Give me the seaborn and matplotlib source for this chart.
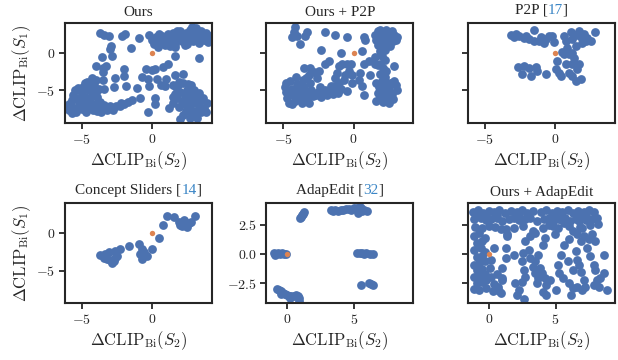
import matplotlib
matplotlib.use("Agg")
import matplotlib.pyplot as plt
from matplotlib.ticker import FuncFormatter
from matplotlib.offsetbox import TextArea, HPacker, AnchoredOffsetbox
import pandas as pd
import seaborn as sns

# ---- data ----
ours = [
    # upper right band
    (-0.2, 2.3), (0.0, 1.7), (0.1, 1.1), (0.3, 2.0), (0.4, 0.8), (0.6, 1.4), (0.7, 2.2), (0.9, 1.0),
    (1.0, 1.8), (1.1, 2.4), (1.2, 1.3), (1.4, 2.0), (1.5, 2.6), (1.6, 1.1), (1.7, 1.7), (1.9, 2.3),
    (2.0, 2.8), (2.1, 1.5), (2.2, 2.0), (2.4, 2.6), (2.5, 1.2), (2.6, 1.9), (2.7, 3.0), (2.8, 2.3),
    (2.9, 1.5), (3.0, 2.0), (3.1, 3.2), (3.2, 2.5), (3.3, 1.3), (3.4, 1.9), (3.5, 2.9), (3.6, 2.3),
    (3.7, 1.6), (3.8, 2.6), (3.9, 2.0), (4.0, 1.4), (4.1, 2.2), (3.0, 2.7), (2.3, 1.0), (1.3, 0.9),
    (0.5, 2.4), (1.8, 2.9), (0.2, 1.4), (2.8, 3.4),
    (1.6, 0.7), (1.6, -0.45), (3.3, -0.76),
    # middle scatter
    (-3.70, 2.59), (-3.39, 2.37), (-3.08, 2.19), (-2.13, 2.23), (-1.94, 2.46), (-0.90, 1.88),
    (-2.89, 0.89), (-3.03, 0.54), (-1.49, 0.58), (-3.55, -0.58), (-2.87, -0.49),
    (-3.98, -1.83), (-3.46, -2.01), (-3.27, -1.79), (-3.51, -2.54), (-1.97, -2.10),
    (-0.47, -2.14), (0.0, -2.32), (0.17, -2.23), (0.76, -1.92), (1.11, -1.56),
    (-2.01, -3.04), (-2.61, -3.35), (-0.71, -3.21), (-0.31, -3.44), (0.36, -3.44), (1.0, -3.44),
    (1.59, -2.90), (2.18, -2.81), (-3.51, -3.57), (-2.68, -4.55), (-3.39, -4.78), (-1.85, -4.46),
    (-1.09, -4.69), (-0.19, -4.46), (0.64, -4.33), (0.88, -4.38), (1.47, -4.33), (1.82, -4.24),
    (1.94, -3.88), (2.54, -4.15), (2.77, -4.24), (0.17, -5.94), (0.17, -6.83), (-0.31, -7.81),
    (1.23, -7.28), (1.47, -5.80), (-0.85, -6.03),
    # lower left blob
    (-5.9, -7.6), (-5.8, -7.0), (-5.7, -6.3), (-5.6, -5.6), (-5.5, -4.9), (-5.4, -7.8), (-5.3, -7.2),
    (-5.2, -6.6), (-5.1, -6.0), (-5.0, -5.3), (-4.9, -4.6), (-4.8, -4.0), (-4.7, -7.9), (-4.6, -7.3),
    (-4.5, -6.8), (-4.4, -6.2), (-4.3, -5.6), (-4.2, -5.0), (-4.1, -4.3), (-4.0, -3.6), (-4.3, -3.4),
    (-4.6, -3.9), (-3.9, -7.7), (-3.8, -7.1), (-3.7, -6.5), (-3.9, -5.8), (-3.8, -4.8), (-5.6, -7.4),
    (-5.0, -7.5), (-4.2, -7.6), (-3.5, -7.4), (-3.4, -6.9), (-5.2, -5.0), (-4.8, -5.8), (-4.5, -4.9),
    (-4.0, -6.8), (-5.9, -6.8), (-4.9, -6.5), (-4.1, -7.2), (-3.6, -7.8), (-5.4, -6.0), (-4.4, -4.4),
    (-4.0, -5.2), (-5.7, -8.0), (-6.0, -7.3), (-5.3, -4.7),
    # band to the right
    (-3.2, -7.6), (-2.9, -7.3), (-2.6, -7.1), (-2.3, -7.0), (-2.0, -6.8), (-1.7, -6.5), (-1.4, -6.3),
    (-2.8, -7.6), (-2.2, -6.6), (-3.0, -7.0),
    # lower right cluster
    (1.6, -5.5), (1.8, -6.0), (2.0, -5.2), (2.1, -6.5), (2.3, -5.6), (2.4, -6.9), (2.5, -5.0),
    (2.6, -6.2), (2.7, -7.3), (2.8, -5.6), (2.9, -6.6), (3.0, -4.9), (3.1, -7.7), (3.2, -5.9),
    (3.3, -7.0), (3.4, -6.4), (3.5, -7.9), (3.6, -6.0), (3.7, -7.3), (3.9, -6.7), (2.2, -8.2),
    (2.0, -8.8), (2.7, -8.6), (2.9, -8.2), (2.4, -7.7), (1.9, -7.2), (1.7, -4.6), (2.2, -4.0),
    (2.6, -4.4), (3.3, -5.3), (3.8, -7.8), (1.5, -6.6), (2.3, -6.0), (2.8, -7.8), (3.2, -8.6),
]

ours_p2p = [
    (-4.15, 3.35), (-4.27, 2.68), (-4.38, 2.01), (-4.03, 2.23), (-3.79, 1.2), (-3.32, 2.68), (-3.44, 2.23),
    (-2.01, 2.68), (-1.30, 2.37), (0.71, 2.01), (0.83, 1.65), (0.59, 0.22), (-0.47, 2.10),
    (-2.32, 0.31), (-0.90, 0.0),
    (-3.08, -2.01), (-3.55, -2.01), (-2.49, -2.46), (-2.01, -1.56), (-1.78, -1.12), (-1.07, -1.79),
    (-0.83, -1.47), (-0.47, -1.47), (-0.19, -1.56), (-0.36, -2.46), (-0.59, -2.90), (-1.18, -2.68),
    (-1.30, -3.35), (-0.71, -3.57), (-0.12, -2.90), (0.47, -2.68), (0.71, -1.56), (1.07, -1.12),
    (1.18, -2.90), (1.54, -1.56), (0.59, -4.46), (0.71, -5.58), (-0.47, -5.13), (-1.42, -4.46),
    (-1.07, -4.02), (-0.12, -4.02), (0.36, -3.57), (2.84, -1.79),
    # left blob
    (-4.9, -4.5), (-4.8, -5.2), (-4.7, -6.0), (-4.6, -6.6), (-4.5, -3.8), (-4.4, -4.8), (-4.3, -5.6),
    (-4.2, -6.4), (-4.1, -3.2), (-4.0, -4.2), (-3.9, -5.0), (-3.8, -5.9), (-3.7, -6.6), (-3.6, -3.6),
    (-3.5, -4.6), (-3.4, -5.4), (-3.3, -6.2), (-3.2, -2.9), (-3.1, -4.0), (-3.0, -5.0), (-2.9, -5.7),
    (-4.8, -4.0), (-4.6, -5.4), (-4.2, -5.0), (-3.8, -4.4), (-3.4, -3.4), (-4.0, -6.0), (-3.6, -5.2),
    (-4.4, -6.8), (-3.2, -6.6), (-2.8, -2.5), (-2.6, -3.4),
    (-2.7, -5.6), (-2.5, -5.2), (-2.3, -5.8), (-2.1, -5.3), (-1.9, -5.6), (-1.7, -5.1), (-1.5, -5.5),
    (-1.3, -4.9), (-1.1, -5.3), (-0.9, -4.8), (-2.4, -4.6), (-2.0, -4.9), (-1.6, -4.4),
    # right column
    (1.5, 2.3), (1.7, 2.8), (1.9, 3.0), (2.1, 2.6), (2.3, 3.0), (2.5, 2.5), (2.7, 2.9), (2.9, 2.3),
    (3.1, 2.0), (1.6, 1.6), (1.8, 2.0), (2.0, 1.4), (2.2, 2.1), (2.4, 1.6), (2.6, 1.9), (2.8, 1.5),
    (3.0, 1.7), (1.7, 1.0), (2.0, 0.8), (2.3, 1.0), (2.6, 0.9), (2.2, 0.4), (1.9, 0.2),
    (2.0, -0.4), (2.2, -1.0), (1.9, -1.5), (2.1, -2.0), (2.3, -2.4), (1.9, -2.8), (2.2, -3.2),
    (2.0, -3.7), (2.3, -4.1), (1.5, -0.6), (1.7, -1.7),
    (1.6, -4.0), (1.8, -4.6), (1.7, -5.3), (1.9, -5.9), (1.6, -6.4), (2.1, -4.4), (2.2, -5.1),
    (2.4, -5.7), (2.1, -6.5), (2.5, -4.8), (2.7, -5.4), (2.8, -6.1), (2.5, -6.6), (3.0, -4.3),
    (2.9, -3.8), (2.6, -4.0), (3.1, -5.0),
]

p2p = [
    (-3.15, 2.37), (-2.91, 2.01), (-2.56, 2.23), (-2.20, 1.92), (-1.85, 1.79), (-1.49, 2.99),
    (-1.49, 1.56), (-1.14, 1.47), (-0.78, 1.21), (-0.66, 1.79), (-0.19, 2.23), (-0.07, 1.34),
    (0.64, 2.23), (0.76, 1.56), (1.11, 2.68), (1.23, 1.79), (1.47, 2.37), (1.82, 2.01), (2.06, 2.46),
    (2.18, 1.47), (2.54, 1.56), (2.84, 2.77), (1.47, 0.89), (1.23, 0.0), (0.64, -0.22), (0.52, 0.13),
    (1.0, -0.22), (-2.80, 2.46), (-2.09, 2.23), (-1.02, 2.10), (-0.43, 2.23), (1.71, 2.90),
    (1.94, 1.21), (2.30, 1.92), (0.88, 0.67), (1.35, -0.67),
    (-2.61, -1.92), (-2.20, -1.79), (-1.85, -2.01), (-1.37, -1.92), (-2.32, -2.81), (-1.73, -3.13),
    (-1.26, -2.46), (-0.66, -2.81), (0.17, -1.12), (0.05, -2.23), (0.28, -2.68), (0.40, -3.13),
    (0.76, -1.56), (1.23, -1.47), (1.71, -1.56), (1.54, -2.23), (1.23, -3.13), (1.47, -3.71),
    (1.82, -3.44), (1.0, -2.68),
]

sliders = [
    (-3.67, -2.93), (-3.44, -3.29), (-3.20, -3.51), (-2.84, -3.96), (-2.73, -3.74), (-3.08, -2.61),
    (-2.61, -2.39), (-2.25, -2.16), (-2.49, -3.06), (-3.32, -2.84), (-2.96, -3.65), (-2.61, -3.38),
    (-1.66, -1.71), (-0.95, -1.49), (-0.71, -2.16), (-0.83, -2.84), (-0.71, -3.51), (-0.36, -3.06),
    (-0.59, -2.61), (0.0, -2.16), (0.47, -0.68), (0.76, 0.99), (1.07, 2.21), (1.54, 2.03),
    (1.90, 1.44), (2.13, 0.86), (2.49, 0.77), (2.61, 1.22), (2.37, 1.13), (2.73, 1.44), (3.03, 2.21),
    (2.25, 1.67), (2.01, 0.99),
]

adapedit = [
    (-1.0, 0.05), (-0.85, 0.0), (-0.7, 0.05), (-0.55, 0.0), (-0.4, 0.05), (-0.25, 0.0), (-0.1, 0.02),
    (-0.9, -0.05),
    (0.98, 3.06), (1.05, 3.2), (1.12, 3.32), (1.2, 3.45), (1.29, 3.55),
    (3.3, 3.8), (3.45, 3.7), (3.6, 3.75), (3.8, 3.7), (4.0, 3.72), (4.2, 3.78), (4.4, 3.82),
    (4.6, 3.85), (4.8, 3.8), (5.0, 3.9), (5.2, 3.95), (5.35, 3.85), (5.3, 3.5), (5.5, 3.9),
    (5.6, 3.7), (5.75, 3.8), (5.95, 3.65), (5.45, 4.0),
    (5.25, 0.05), (5.45, 0.05), (5.6, 0.08), (5.75, 0.03), (5.9, 0.05), (6.2, 0.02), (6.45, 0.0),
    (5.55, -2.65), (6.1, -2.5), (6.3, -2.55), (6.45, -2.62),
    (-0.75, -3.0), (-0.6, -3.1), (-0.45, -3.2), (-0.3, -3.3), (-0.15, -3.45), (0.0, -3.5),
    (0.15, -3.55), (0.3, -3.6), (0.5, -3.55), (0.65, -3.5), (0.8, -3.6), (0.9, -3.8), (0.85, -4.0),
    (-0.5, -3.4), (0.2, -3.75),
]

ours_adapedit = [
    # top band
    (-1.2, 3.6), (-0.8, 3.8), (-0.4, 3.5), (0.0, 3.7), (0.4, 3.6), (0.8, 3.8), (1.2, 3.5), (1.7, 3.7),
    (2.1, 3.6), (2.5, 3.8), (2.9, 3.5), (3.3, 3.7), (3.9, 3.6), (4.3, 3.8), (4.7, 3.5), (5.1, 3.7),
    (5.5, 3.6), (5.9, 3.8), (6.3, 3.5), (6.7, 3.7), (7.1, 3.6), (7.5, 3.8), (7.9, 3.6),
    (-1.1, 3.0), (-0.6, 3.1), (-0.2, 2.9), (0.2, 3.0), (0.6, 3.1), (1.0, 2.8), (1.5, 3.0), (1.9, 3.1),
    (2.3, 2.9), (2.7, 3.0), (3.1, 3.1), (3.6, 2.8), (4.1, 3.0), (4.5, 3.1), (4.9, 2.9), (5.3, 3.0),
    (5.7, 3.1), (6.1, 2.8), (6.5, 3.0), (6.9, 3.1), (7.3, 2.9), (7.7, 3.0), (8.1, 3.1),
    (-1.0, 2.3), (-0.5, 2.2), (0.0, 2.4), (0.5, 2.3), (0.9, 2.1), (1.9, 2.2), (2.6, 2.4), (3.3, 2.0),
    (4.5, 2.5), (5.2, 2.2), (6.0, 2.4), (6.8, 2.3), (7.6, 2.5), (8.2, 2.6),
    (-0.9, 3.3), (-0.2, 3.4), (0.6, 3.3), (2.3, 3.3), (4.9, 3.3), (6.5, 3.3), (7.3, 3.3),
    # left column
    (-1.1, 1.5), (-0.7, 1.8), (-0.3, 1.4), (-0.9, 0.9), (-0.5, 1.1), (-1.1, 0.3), (-0.6, 0.5),
    (-0.3, 0.2), (-0.9, -0.3), (-0.5, -0.2), (-1.1, -0.9), (-0.7, -0.8), (-0.3, -0.6), (-0.9, -1.4),
    (-0.5, -1.3), (-1.1, -2.0), (-0.7, -1.9), (-0.3, -1.7), (-0.9, -2.5), (-0.5, -2.4), (-1.1, -3.0),
    (-0.7, -3.1), (-0.2, -2.9), (-0.2, -2.2), (0.1, -1.2), (0.2, -2.0), (0.4, -2.6), (0.3, -3.2),
    (0.7, -2.8), (0.9, -3.3), (0.6, -1.7), (1.0, -2.2),
    (0.41, 0.52), (0.17, -0.49), (1.27, 0.52), (1.34, 1.53), (1.27, -0.35), (1.02, -1.21),
    (1.02, -2.08), (0.78, -3.18),
    # middle and right streaks
    (1.88, -0.06), (2.12, -3.53), (2.61, -3.87), (2.24, -3.09), (2.49, -2.37), (2.73, -1.94),
    (2.61, -1.36), (2.49, -0.64), (2.56, 0.09), (2.73, 1.10), (3.10, 1.53), (2.98, 0.38),
    (3.10, -0.35), (3.34, -1.07), (3.46, -1.65), (3.59, -2.51), (3.71, -2.08), (3.46, -0.64),
    (3.71, -0.06), (3.83, -1.21), (3.95, -1.65), (4.07, 0.81), (4.20, 1.39), (4.07, 2.25),
    (4.32, -2.66), (4.56, -2.23), (4.32, -3.47), (2.0, -2.51), (1.39, 1.68), (1.27, 2.11),
    (3.46, 1.82), (4.93, 1.68), (4.80, 2.40), (5.41, -0.06), (5.17, -0.92), (5.29, -1.65),
    (5.54, -2.08), (6.02, -2.51), (6.15, -3.53), (6.27, -2.95), (5.90, -0.64), (6.27, -1.36),
    (6.51, 0.23), (6.63, -0.49), (6.76, -0.92), (6.88, -1.50), (7.12, -2.23), (7.00, -3.09),
    (6.63, -2.80), (7.24, -2.80), (7.37, 0.52), (7.49, 1.24), (7.73, 1.68), (7.98, 1.10),
    (7.61, -0.20), (7.85, -0.92), (7.98, -1.36), (8.10, -2.23), (7.85, -2.66), (8.34, -2.08),
    (8.59, -0.06), (8.83, -3.09), (5.29, 2.98), (5.66, 2.69), (6.76, 2.83), (7.0, 2.25),
    (6.63, 1.68), (6.88, 1.10), (7.12, 1.53), (4.20, -2.08), (4.07, -3.24), (5.05, -3.09),
    (5.66, 0.81), (6.02, 1.24), (6.27, 1.97), (8.22, -2.80), (8.59, -1.65),
]

titles = [("Ours", None), ("Ours + P2P", None), ("P2P", "17"),
          ("Concept Sliders", "14"), ("AdapEdit", "32"), ("Ours + AdapEdit", None)]
panels = [ours, ours_p2p, p2p, sliders, adapedit, ours_adapedit]
origin = (0.0, 0.0)

# ---- style ----
sns.set_style("ticks")
plt.rcParams["font.family"] = ["Liberation Serif", "DejaVu Serif"]
plt.rcParams["mathtext.fontset"] = "cm"
plt.rcParams["axes.linewidth"] = 1.5
plt.rcParams["xtick.major.width"] = 1.3
plt.rcParams["ytick.major.width"] = 1.3
plt.rcParams["xtick.major.size"] = 4
plt.rcParams["ytick.major.size"] = 4

blue = "#4C72B0"
orange = "#DD8452"
cite_blue = "#3B86C6"
title_size = 11

fig, axes = plt.subplots(2, 3, figsize=(6.18, 3.6), dpi=100)
fig.subplots_adjust(left=0.105, right=0.995, top=0.936, bottom=0.158, wspace=0.37, hspace=0.8)

int_fmt = FuncFormatter(lambda v, p: "$%d$" % round(v))
dec_fmt = FuncFormatter(lambda v, p: "$%.1f$" % v)

for i, ax in enumerate(axes.flat):
    df = pd.DataFrame(panels[i], columns=["x", "y"])
    sns.scatterplot(data=df, x="x", y="y", color=blue, s=40, linewidth=0, ax=ax)
    ax.scatter([origin[0]], [origin[1]], color=orange, s=15, linewidth=0, zorder=5)

    if i in (4, 5):
        ax.set_xlim(-1.56, 9.44)
        ax.set_ylim(-4.2, 4.35)
        ax.set_xticks([0, 5])
        ax.set_yticks([-2.5, 0, 2.5])
        ax.yaxis.set_major_formatter(dec_fmt)
    else:
        ax.set_xlim(-6.2, 4.25)
        ax.set_ylim(-9.3, 3.9)
        ax.set_xticks([-5, 0])
        ax.set_yticks([-5, 0])
        ax.yaxis.set_major_formatter(int_fmt)
    ax.xaxis.set_major_formatter(int_fmt)
    ax.tick_params(labelsize=10, pad=3)

    ax.set_xlabel(r"$\Delta\mathrm{CLIP}_{\mathrm{Bi}}(S_2)$", fontsize=12, labelpad=2)
    if i in (0, 3):
        ax.set_ylabel(r"$\Delta\mathrm{CLIP}_{\mathrm{Bi}}(S_1)$", fontsize=12, labelpad=2)
    else:
        ax.set_ylabel("")
    if i in (1, 2, 5):
        ax.set_yticklabels([])

    name, ref = titles[i]
    if ref is None:
        ax.set_title(name, fontsize=title_size, pad=5)
    else:
        parts = [TextArea(name + " [", textprops=dict(fontsize=title_size)),
                 TextArea(ref, textprops=dict(fontsize=title_size, color=cite_blue)),
                 TextArea("]", textprops=dict(fontsize=title_size))]
        box = HPacker(children=parts, align="baseline", pad=0, sep=0)
        anchored = AnchoredOffsetbox(loc="lower center", child=box, frameon=False,
                                     bbox_to_anchor=(0.5, 1.0), bbox_transform=ax.transAxes,
                                     pad=0, borderpad=0.45)
        ax.add_artist(anchored)

fig.savefig("out.png", dpi=100)
